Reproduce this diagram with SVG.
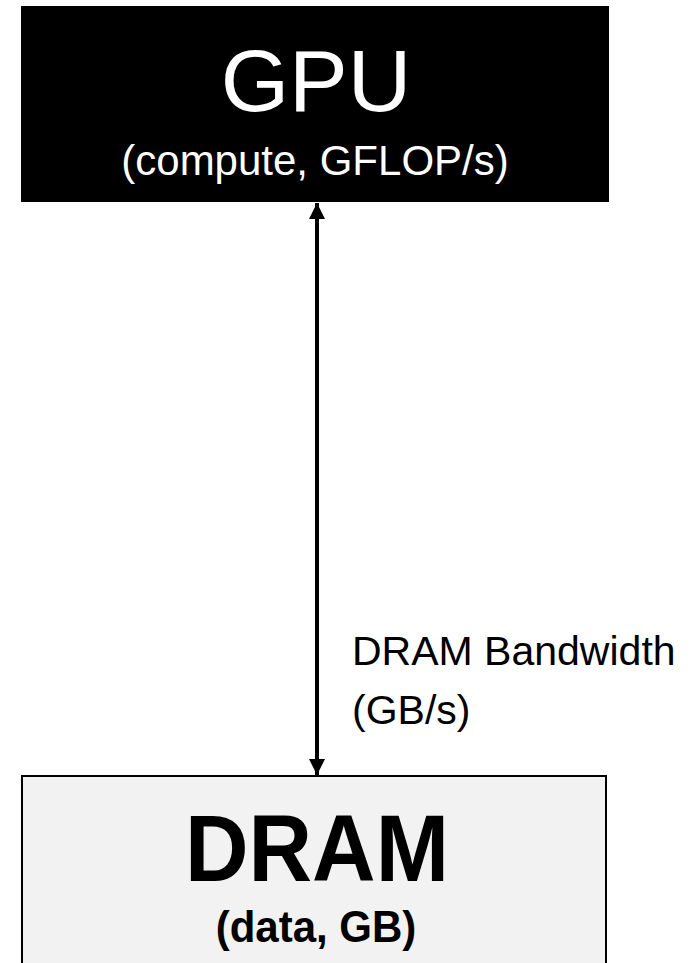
<svg xmlns="http://www.w3.org/2000/svg" width="698" height="963" viewBox="0 0 698 963">
  <style>
    text { font-family: "Liberation Sans", Arial, sans-serif; }
    .title { font-size: 88px; text-anchor: middle; }
    .sub { font-size: 42px; text-anchor: middle; }
    .label { font-size: 41px; fill: #000; }
    .link { stroke: #000; stroke-width: 4; fill: none; }
  </style>
  <defs>
    <marker id="head" viewBox="0 0 10 10" refX="10" refY="5" markerWidth="4" markerHeight="4" markerUnits="strokeWidth" orient="auto-start-reverse">
      <path d="M0,0 L10,5 L0,10 Z" fill="#000"/>
    </marker>
  </defs>

  <!-- connector: DRAM <-> GPU -->
  <g id="connectors">
    <line class="link" x1="317" y1="203" x2="317" y2="775" marker-start="url(#head)" marker-end="url(#head)"/>
    <text class="label" x="352" y="665">DRAM Bandwidth</text>
    <text class="label" x="352" y="724">(GB/s)</text>
  </g>

  <!-- compute node -->
  <g id="gpu">
    <rect x="22" y="7" width="586" height="194" fill="#000" stroke="#000" stroke-width="2"/>
    <text class="title" x="316" y="111" fill="#fff">GPU</text>
    <text class="sub" x="315" y="175" fill="#fff">(compute, GFLOP/s)</text>
  </g>

  <!-- memory node -->
  <g id="dram">
    <rect x="22" y="776" width="584" height="200" fill="#f2f2f2" stroke="#000" stroke-width="2"/>
    <text class="title" transform="translate(317,881) scale(1,1.07)" font-size="89" font-weight="bold">DRAM</text>
    <text class="sub" transform="translate(316,942) scale(1,1.05)" font-size="43" font-weight="bold">(data, GB)</text>
  </g>
</svg>
